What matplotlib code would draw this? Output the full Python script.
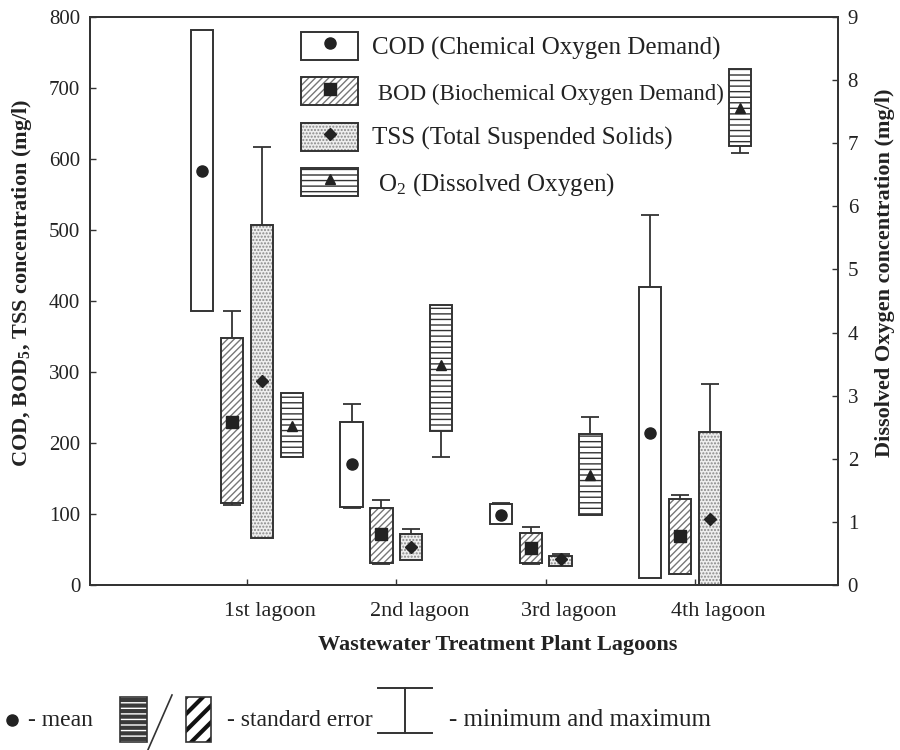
import numpy as np
import matplotlib
matplotlib.use('Agg')
import matplotlib.pyplot as plt
from matplotlib.patches import Patch, Rectangle
from matplotlib.lines import Line2D
from matplotlib.legend_handler import HandlerTuple

plt.rcParams['font.family'] = ['Liberation Serif', 'DejaVu Serif']
plt.rcParams['mathtext.fontset'] = 'custom'
plt.rcParams['mathtext.rm'] = 'Liberation Serif'
plt.rcParams['mathtext.it'] = 'Liberation Serif:italic'
plt.rcParams['mathtext.bf'] = 'Liberation Serif:bold'
plt.rcParams['hatch.linewidth'] = 1.0

# ---------------- data ----------------
lagoons = ['1st lagoon', '2nd lagoon', '3rd lagoon', '4th lagoon']
nan = np.nan
cod_mean = [583, 170, 99, 214]
cod_lo = [386, 110, 86, 10]
cod_hi = [782, 229, 114, 420]
cod_min = [nan, 108, nan, nan]
cod_max = [nan, 255, 116, 521]

bod_mean = [230, 72, 52, 69]
bod_lo = [115, 31, 31, 15]
bod_hi = [348, 108, 73, 121]
bod_min = [113, 29, 29, nan]
bod_max = [386, 120, 82, 127]

tss_mean = [287, 54, 37, 93]
tss_lo = [66, 35, 27, 0]
tss_hi = [507, 72, 41, 216]
tss_min = [nan, nan, nan, nan]
tss_max = [617, 79, 44, 283]

o2_mean = [2.52, 3.49, 1.74, 7.56]
o2_lo = [2.03, 2.44, 1.11, 6.96]
o2_hi = [3.04, 4.44, 2.39, 8.18]
o2_min = [nan, 2.03, nan, 6.85]
o2_max = [nan, nan, 2.66, nan]

left_ticks = [0, 100, 200, 300, 400, 500, 600, 700, 800]
right_ticks = [0, 1, 2, 3, 4, 5, 6, 7, 8, 9]

# ---------------- style ----------------
EDGE = '#333333'
TXT = '#222222'
W = 0.15

fig = plt.figure(figsize=(9, 7.5), dpi=100)
ax = fig.add_axes([90/900, 1-585/750, (838-90)/900, (585-17)/750])
ax2 = ax.twinx()

pos = np.arange(1, len(lagoons) + 1)


def draw(axis, offset, mean, lo, hi, mn, mx, face, hatch, hcol, marker, ms):
    x = pos + offset
    mean = np.asarray(mean, float)
    lo = np.asarray(lo, float)
    hi = np.asarray(hi, float)
    mn = np.asarray(mn, float)
    mx = np.asarray(mx, float)
    lower = np.where(np.isnan(mn), 0, mean - mn)
    upper = np.where(np.isnan(mx), 0, mx - mean)
    axis.errorbar(x, mean, yerr=[lower, upper], fmt='none', ecolor=EDGE,
                  elinewidth=1.3, capsize=6.5, capthick=1.3, zorder=1)
    axis.bar(x, hi - lo, bottom=lo, width=W, color=face, edgecolor=hcol,
             hatch=hatch, linewidth=0, zorder=2)
    axis.bar(x, hi - lo, bottom=lo, width=W, fill=False, edgecolor=EDGE,
             linewidth=1.4, zorder=3)
    axis.plot(x, mean, linestyle='none', marker=marker, color=TXT,
              ms=ms, zorder=4)


draw(ax, -0.3, cod_mean, cod_lo, cod_hi, cod_min, cod_max, 'white', None, EDGE, 'o', 8)
draw(ax, -0.1, bod_mean, bod_lo, bod_hi, bod_min, bod_max, 'white', '/////', '#777777', 's', 8.5)
draw(ax, 0.1, tss_mean, tss_lo, tss_hi, tss_min, tss_max, '#eeeeee', '.....', '#888888', 'D', 6)
draw(ax2, 0.3, o2_mean, o2_lo, o2_hi, o2_min, o2_max, 'white', '---', '#333333', '^', 7.5)

ax.set_xlim(-0.052, 4.958)
ax.set_ylim(0, 800)
ax2.set_ylim(0, 9)
ax.set_yticks(left_ticks)
ax2.set_yticks(right_ticks)
# major ticks mark the lagoons; labels sit slightly to the right (minor ticks)
ax.set_xticks(pos)
ax.set_xticklabels([])
ax.set_xticks(pos + 0.155, minor=True)
ax.set_xticklabels(lagoons, minor=True)

ax.tick_params(axis='x', which='major', direction='in', length=4, width=1,
               colors=EDGE)
ax.tick_params(axis='x', which='minor', length=0, pad=12, labelsize=16,
               labelcolor=TXT)
ax.tick_params(axis='y', direction='in', length=4, width=1, pad=7,
               labelsize=15, colors=EDGE, labelcolor=TXT)
ax2.tick_params(axis='y', direction='in', length=4, width=1, pad=7,
                labelsize=15, colors=EDGE, labelcolor=TXT)
for a in (ax, ax2):
    for s in a.spines.values():
        s.set_color(EDGE)
        s.set_linewidth(1.3)

fig.text(498/900, 1-645/750, 'Wastewater Treatment Plant Lagoons',
         ha='center', va='center', fontsize=16, fontweight='bold', color=TXT)
fig.text(22/900, 1-283/750, r'COD, BOD$_{\mathbf{5}}$, TSS concentration (mg/l)',
         ha='center', va='center', rotation=90, fontsize=16, fontweight='bold', color=TXT)
fig.text(885/900, 1-273/750, 'Dissolved Oxygen concentration (mg/l)',
         ha='center', va='center', rotation=90, fontsize=16, fontweight='bold', color=TXT)

# ---------------- legend ----------------
def mk(marker, ms):
    return Line2D([], [], linestyle='none', marker=marker, color=TXT, ms=ms)

outline = dict(fill=False, edgecolor=EDGE, linewidth=1.4)
handles = [
    (Patch(facecolor='white', edgecolor=EDGE, linewidth=1.4), mk('o', 8)),
    (Patch(facecolor='white', edgecolor='#777777', hatch='/////', linewidth=0), Patch(**outline), mk('s', 8.5)),
    (Patch(facecolor='#eeeeee', edgecolor='#888888', hatch='.....', linewidth=0), Patch(**outline), mk('D', 6)),
    (Patch(facecolor='white', edgecolor='#333333', hatch='---', linewidth=0), Patch(**outline), mk('^', 7.5)),
]
labels = ['COD (Chemical Oxygen Demand)', ' BOD (Biochemical Oxygen Demand)',
          'TSS (Total Suspended Solids)', r' O$_2$ (Dissolved Oxygen)']
leg = ax2.legend(handles, labels, handler_map={tuple: HandlerTuple(ndivide=1, pad=0)},
                 loc='upper left', bbox_to_anchor=((301-90)/748, (585-32)/568),
                 frameon=False, borderpad=0, borderaxespad=0, fontsize=18,
                 handlelength=2.28, handleheight=1.35, labelspacing=0.69,
                 handletextpad=0.56, labelcolor=TXT)
leg.get_texts()[1].set_fontsize(16.5)

# ---------------- key row at bottom ----------------
kax = fig.add_axes([0, 0, 1, 1], zorder=-1)
kax.set_xlim(0, 900)
kax.set_ylim(750, 0)
kax.axis('off')
kax.plot([12], [720], 'o', ms=8, color=TXT)
kax.text(28, 720, '- mean', va='center', ha='left', fontsize=17, color=TXT)
kax.add_patch(Rectangle((120, 697), 27, 45, facecolor='#3a3a3a', edgecolor='white',
                        hatch='---', linewidth=0))
kax.add_patch(Rectangle((120, 697), 27, 45, fill=False, edgecolor=EDGE, linewidth=1.2))
kax.plot([172, 147], [695, 752], color=EDGE, lw=1.2)
diag = Rectangle((186, 697), 25, 45, facecolor='white', edgecolor='#111111',
                 hatch='//', linewidth=0)
if hasattr(diag, 'set_hatch_linewidth'):
    diag.set_hatch_linewidth(3)
kax.add_patch(diag)
kax.add_patch(Rectangle((186, 697), 25, 45, fill=False, edgecolor=EDGE, linewidth=1.2))
kax.text(227, 720, '- standard error', va='center', ha='left', fontsize=17, color=TXT)
kax.plot([405, 405], [688, 733], color=EDGE, lw=1.4)
kax.plot([378, 432], [688, 688], color=EDGE, lw=1.4)
kax.plot([378, 432], [733, 733], color=EDGE, lw=1.4)
kax.text(449, 720, '- minimum and maximum', va='center', ha='left', fontsize=18, color=TXT)

fig.savefig('out.png', dpi=100)
